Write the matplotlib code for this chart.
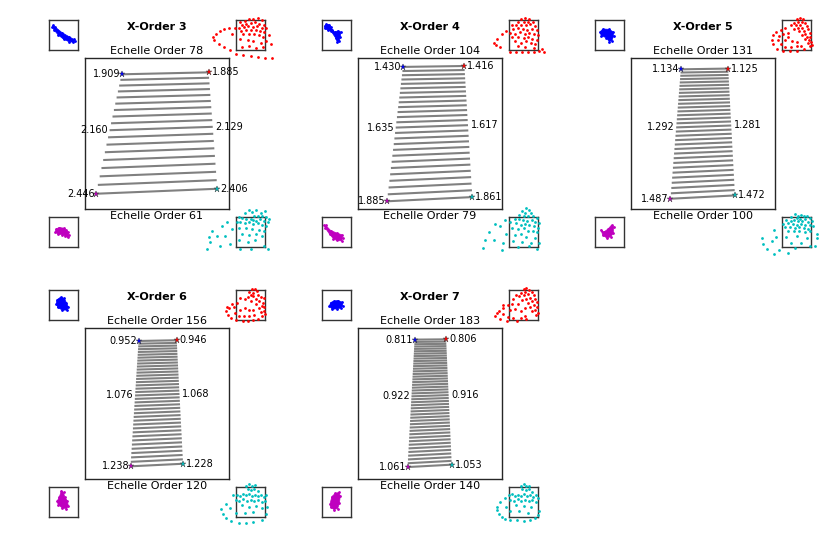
import numpy as np
import matplotlib.pyplot as plt

# cross-disperser orders and the echelle orders they cover
xorders = [3, 4, 5, 6, 7]
order_top = [78, 104, 131, 156, 183]
order_bot = [61, 79, 100, 120, 140]

# wavelengths (micron) at the corners and at the middle order
wl_tl = [1.909, 1.430, 1.134, 0.952, 0.811]
wl_tr = [1.885, 1.416, 1.125, 0.946, 0.806]
wl_ml = [2.160, 1.635, 1.292, 1.076, 0.922]
wl_mr = [2.129, 1.617, 1.281, 1.068, 0.916]
wl_bl = [2.446, 1.885, 1.487, 1.238, 1.061]
wl_br = [2.406, 1.861, 1.472, 1.228, 1.053]

# corner positions on the detector (normalised units)
tl_x = [0.254, 0.312, 0.346, 0.372, 0.393]
tl_y = [0.892, 0.941, 0.925, 0.914, 0.923]
tr_x = [0.859, 0.739, 0.675, 0.637, 0.612]
tr_y = [0.905, 0.947, 0.930, 0.919, 0.925]
bl_x = [0.076, 0.201, 0.274, 0.316, 0.344]
bl_y = [0.101, 0.051, 0.068, 0.084, 0.079]
br_x = [0.919, 0.794, 0.722, 0.681, 0.651]
br_y = [0.134, 0.079, 0.090, 0.101, 0.095]

# spot diagrams, in units of the pixel box
blue_3 = [(0.14, 0.82), (0.22, 0.76), (0.45, 0.58), (0.68, 0.45), (0.85, 0.36), (0.88, 0.30),
          (0.82, 0.26), (0.68, 0.28), (0.50, 0.36), (0.32, 0.50), (0.18, 0.66), (0.12, 0.76)]
blue_4 = [(0.44, 0.60), (0.55, 0.64), (0.65, 0.60), (0.63, 0.45), (0.60, 0.30), (0.52, 0.28),
          (0.47, 0.40), (0.32, 0.62), (0.20, 0.66), (0.10, 0.72), (0.09, 0.80), (0.15, 0.86),
          (0.24, 0.85), (0.30, 0.78), (0.36, 0.68)]
blue_5 = [(0.17, 0.60), (0.27, 0.70), (0.48, 0.69), (0.62, 0.61), (0.64, 0.46), (0.58, 0.31),
          (0.49, 0.28), (0.39, 0.41), (0.22, 0.47)]
blue_6 = [(0.28, 0.68), (0.40, 0.76), (0.53, 0.72), (0.60, 0.58), (0.67, 0.43), (0.62, 0.33),
          (0.46, 0.33), (0.30, 0.42), (0.25, 0.55)]
blue_7 = [(0.25, 0.46), (0.30, 0.58), (0.40, 0.63), (0.55, 0.65), (0.68, 0.60), (0.72, 0.48),
          (0.65, 0.40), (0.50, 0.37), (0.36, 0.36)]

mag_3 = [(0.24, 0.60), (0.35, 0.65), (0.50, 0.63), (0.60, 0.56), (0.67, 0.49), (0.69, 0.39),
         (0.64, 0.32), (0.55, 0.37), (0.45, 0.41), (0.31, 0.43), (0.22, 0.49)]
mag_4 = [(0.08, 0.72), (0.13, 0.72), (0.30, 0.55), (0.50, 0.47), (0.68, 0.41), (0.71, 0.30),
         (0.68, 0.20), (0.50, 0.22), (0.39, 0.28), (0.26, 0.43), (0.11, 0.64)]
mag_5 = [(0.20, 0.58), (0.31, 0.50), (0.45, 0.60), (0.57, 0.73), (0.64, 0.68), (0.63, 0.46),
         (0.54, 0.34), (0.41, 0.30), (0.27, 0.39)]
mag_6 = [(0.43, 0.88), (0.50, 0.82), (0.54, 0.68), (0.63, 0.54), (0.67, 0.36), (0.60, 0.28),
         (0.46, 0.30), (0.32, 0.41), (0.28, 0.52), (0.36, 0.68)]
mag_7 = [(0.28, 0.45), (0.34, 0.68), (0.46, 0.79), (0.59, 0.82), (0.63, 0.69), (0.60, 0.46),
         (0.54, 0.28), (0.41, 0.25), (0.30, 0.32)]

red_3 = [(0.15, 0.95), (0.30, 0.98), (0.45, 1.02), (0.60, 1.05), (0.75, 1.08), (0.90, 1.00),
         (0.20, 0.85), (0.35, 0.88), (0.50, 0.90), (0.65, 0.92), (0.80, 0.88), (0.95, 0.85),
         (0.10, 0.75), (0.28, 0.78), (0.42, 0.80), (0.58, 0.78), (0.72, 0.80), (0.88, 0.75),
         (1.05, 0.72), (0.18, 0.65), (0.35, 0.66), (0.50, 0.68), (0.68, 0.66), (0.82, 0.62),
         (0.98, 0.60), (0.25, 0.52), (0.45, 0.55), (0.62, 0.52), (0.78, 0.50), (0.92, 0.45),
         (1.15, 0.50), (0.15, 0.38), (0.40, 0.35), (0.60, 0.30), (0.85, 0.25), (1.05, 0.30),
         (0.20, 0.10), (0.45, 0.12), (0.70, 0.08), (0.92, 0.10), (1.20, 0.20), (-0.25, 0.75),
         (-0.40, 0.70), (-0.55, 0.62), (-0.70, 0.55), (-0.80, 0.45), (-0.75, 0.32), (-0.60, 0.20),
         (-0.40, 0.10), (-0.20, 0.00), (-0.05, 0.75), (-0.15, 0.55), (0.00, -0.12), (0.25, -0.15),
         (0.50, -0.20), (0.75, -0.22), (1.00, -0.25), (1.25, -0.28)]
red_4 = [(0.40, 1.05), (0.55, 1.08), (0.70, 1.02), (0.30, 0.95), (0.50, 0.95), (0.65, 0.92),
         (0.82, 0.95), (0.10, 0.85), (0.25, 0.82), (0.40, 0.85), (0.58, 0.82), (0.72, 0.86),
         (0.88, 0.80), (0.15, 0.70), (0.30, 0.72), (0.48, 0.70), (0.62, 0.68), (0.78, 0.70),
         (0.95, 0.68), (0.05, 0.58), (0.20, 0.55), (0.38, 0.60), (0.55, 0.55), (0.70, 0.58),
         (0.85, 0.55), (1.00, 0.50), (0.12, 0.42), (0.30, 0.45), (0.50, 0.40), (0.65, 0.42),
         (0.80, 0.38), (0.95, 0.35), (0.20, 0.30), (0.42, 0.25), (0.60, 0.30), (0.75, 0.22),
         (0.90, 0.20), (0.30, 0.12), (0.55, 0.10), (0.85, 0.08), (-0.25, 0.54), (-0.42, 0.38),
         (-0.51, 0.25), (-0.44, 0.16), (-0.31, 0.11), (-0.10, 0.62), (0.05, -0.05), (0.25, -0.06),
         (0.45, -0.05), (0.65, -0.06), (0.85, -0.05), (1.05, -0.04), (1.15, 0.05), (1.20, -0.06)]
red_5 = [(0.50, 1.02), (0.62, 1.06), (0.72, 1.04), (0.68, 0.95), (0.55, 0.92), (0.40, 0.90),
         (0.30, 0.84), (0.48, 0.82), (0.62, 0.85), (0.78, 0.90), (0.85, 0.80), (0.70, 0.75),
         (0.55, 0.72), (0.42, 0.70), (0.60, 0.62), (0.75, 0.65), (0.90, 0.70), (0.95, 0.58),
         (0.80, 0.55), (0.68, 0.50), (0.85, 0.45), (0.98, 0.45), (0.92, 0.35), (0.78, 0.38),
         (1.00, 0.28), (0.88, 0.25), (1.02, 0.18), (0.95, 0.12), (-0.34, 0.35), (-0.30, 0.50),
         (-0.20, 0.60), (-0.05, 0.68), (0.10, 0.72), (-0.30, 0.20), (-0.17, 0.02), (0.05, -0.02),
         (0.29, -0.03), (0.52, -0.02), (0.75, 0.02), (-0.15, 0.35), (-0.10, 0.48), (0.05, 0.55),
         (0.20, 0.58), (-0.05, 0.20), (0.10, 0.10), (0.30, 0.10), (0.50, 0.12), (0.65, 0.15),
         (0.10, 0.35), (0.20, 0.42), (0.35, 0.30), (0.50, 0.28)]
red_6 = [(0.45, 0.93), (0.55, 1.02), (0.65, 1.05), (0.72, 0.98), (0.60, 0.90), (0.50, 0.85),
         (0.15, 0.75), (0.30, 0.70), (0.42, 0.78), (0.58, 0.80), (0.75, 0.85), (0.85, 0.78),
         (0.95, 0.72), (0.68, 0.70), (0.52, 0.65), (0.80, 0.62), (0.92, 0.58), (0.70, 0.55),
         (0.88, 0.48), (0.98, 0.42), (0.78, 0.40), (0.95, 0.30), (0.85, 0.28), (1.00, 0.20),
         (0.90, 0.15), (-0.34, 0.29), (-0.28, 0.18), (-0.17, 0.07), (0.00, 0.00), (0.23, -0.03),
         (0.40, -0.03), (0.58, 0.00), (0.75, 0.05), (-0.23, 0.40), (-0.06, 0.45), (-0.30, 0.45),
         (-0.15, 0.55), (0.05, 0.58), (-0.05, 0.25), (0.10, 0.15), (0.28, 0.12), (0.45, 0.15),
         (0.62, 0.18), (0.15, 0.35), (0.30, 0.40), (0.45, 0.32), (0.60, 0.35)]
red_7 = [(0.50, 1.05), (0.60, 1.08), (0.68, 1.00), (0.55, 0.95), (0.42, 0.90), (0.25, 0.85),
         (0.35, 0.80), (0.50, 0.82), (0.65, 0.88), (0.78, 0.92), (0.85, 0.82), (0.72, 0.75),
         (0.58, 0.70), (0.45, 0.68), (0.15, 0.70), (0.90, 0.70), (0.78, 0.62), (0.65, 0.58),
         (0.95, 0.60), (0.85, 0.50), (0.72, 0.45), (0.98, 0.45), (0.90, 0.35), (0.80, 0.30),
         (1.00, 0.25), (0.92, 0.18), (-0.48, 0.13), (-0.36, 0.29), (-0.19, 0.39), (-0.31, 0.02),
         (-0.08, -0.03), (0.26, -0.03), (0.60, 0.02), (-0.40, 0.22), (-0.05, 0.50), (0.10, 0.55),
         (-0.20, 0.20), (-0.05, 0.10), (0.15, 0.08), (0.40, 0.08), (0.55, 0.15), (0.05, 0.32),
         (0.22, 0.38), (0.40, 0.30), (0.55, 0.40), (0.30, 0.55), (-0.20, 0.50)]

cyan_3 = [(0.30, 1.15), (0.45, 1.25), (0.55, 1.18), (0.70, 1.22), (0.85, 1.12), (1.00, 1.20),
          (0.62, 1.05), (0.75, 1.02), (0.90, 1.05), (1.05, 1.00), (1.15, 0.95), (0.10, 1.00),
          (0.22, 0.98), (0.35, 0.95), (0.50, 0.92), (0.60, 0.90), (0.70, 0.88), (0.82, 0.92),
          (0.95, 0.88), (1.10, 0.85), (0.05, 0.85), (0.15, 0.82), (0.30, 0.80), (0.45, 0.82),
          (0.58, 0.78), (0.75, 0.80), (0.90, 0.75), (1.05, 0.70), (0.10, 0.62), (0.35, 0.65),
          (0.55, 0.60), (0.80, 0.58), (0.95, 0.55), (0.20, 0.42), (0.45, 0.40), (0.70, 0.45),
          (0.88, 0.38), (0.12, 0.22), (0.40, 0.18), (0.65, 0.25), (0.95, 0.05), (0.15, -0.05),
          (0.50, -0.08), (1.10, -0.05), (-0.30, 0.82), (-0.48, 0.71), (-0.65, 0.38), (-0.93, 0.33),
          (-0.88, 0.16), (-0.99, -0.05), (-0.37, 0.38), (-0.20, 0.10), (-0.82, 0.54), (-0.15, 0.60),
          (-0.55, 0.05)]
cyan_4 = [(0.60, 1.30), (0.70, 1.25), (0.45, 1.20), (0.55, 1.15), (0.75, 1.12), (0.35, 1.08),
          (0.50, 1.05), (0.65, 1.02), (0.82, 1.05), (0.95, 0.98), (0.20, 0.95), (0.35, 0.92),
          (0.48, 0.90), (0.62, 0.88), (0.78, 0.90), (0.90, 0.85), (1.05, 0.80), (0.05, 0.82),
          (0.25, 0.80), (0.40, 0.75), (0.55, 0.78), (0.70, 0.72), (0.85, 0.70), (1.00, 0.65),
          (0.10, 0.62), (0.30, 0.60), (0.50, 0.62), (0.65, 0.55), (0.82, 0.52), (0.98, 0.50),
          (0.20, 0.40), (0.40, 0.42), (0.60, 0.35), (0.90, 0.30), (0.15, 0.20), (0.45, 0.18),
          (0.75, 0.15), (1.05, 0.12), (0.30, 0.00), (0.70, 0.02), (0.95, -0.05), (-0.15, 0.90),
          (-0.30, 0.70), (-0.48, 0.78), (-0.70, 0.51), (-0.82, 0.24), (-0.88, -0.03), (-0.53, 0.24),
          (-0.19, 0.13), (-0.25, -0.09), (-0.10, 0.45)]
cyan_5 = [(0.45, 1.10), (0.55, 1.05), (0.65, 1.08), (0.75, 1.02), (0.85, 1.05), (0.30, 1.00),
          (0.50, 0.98), (0.62, 0.95), (0.80, 0.95), (0.95, 0.98), (0.15, 0.90), (0.30, 0.88),
          (0.42, 0.90), (0.55, 0.86), (0.70, 0.88), (0.88, 0.85), (1.05, 0.88), (0.05, 0.78),
          (0.20, 0.80), (0.38, 0.78), (0.50, 0.75), (0.65, 0.78), (0.80, 0.74), (0.95, 0.75),
          (1.08, 0.70), (0.10, 0.66), (0.28, 0.68), (0.45, 0.65), (0.60, 0.66), (0.75, 0.62),
          (0.90, 0.60), (0.20, 0.55), (0.40, 0.52), (0.58, 0.55), (0.78, 0.50), (0.98, 0.52),
          (0.15, 0.35), (0.50, 0.38), (0.85, 0.30), (0.30, 0.15), (0.65, 0.12), (0.95, 0.05),
          (0.45, -0.02), (-0.28, 0.57), (-0.19, 0.35), (-0.68, 0.29), (-0.65, 0.10), (-0.53, -0.05),
          (-0.28, -0.23), (-0.35, 0.20), (-0.10, -0.10), (1.19, 0.29), (1.14, 0.02), (1.20, 0.45),
          (0.20, -0.20)]
cyan_6 = [(0.35, 1.05), (0.45, 1.10), (0.55, 1.02), (0.65, 1.08), (0.40, 0.92), (0.52, 0.90),
          (0.62, 0.95), (0.75, 0.88), (-0.10, 0.72), (0.05, 0.75), (0.15, 0.70), (0.25, 0.76),
          (0.35, 0.72), (0.45, 0.78), (0.55, 0.70), (0.65, 0.75), (0.75, 0.70), (0.85, 0.74),
          (0.95, 0.68), (1.05, 0.72), (0.00, 0.58), (0.12, 0.55), (0.25, 0.60), (0.38, 0.55),
          (0.50, 0.58), (0.62, 0.52), (0.75, 0.56), (0.88, 0.50), (1.00, 0.55), (0.20, 0.40),
          (0.45, 0.35), (0.70, 0.38), (0.90, 0.30), (0.30, 0.15), (0.60, 0.18), (-0.51, 0.28),
          (-0.45, 0.11), (-0.34, -0.02), (-0.17, -0.13), (0.11, -0.20), (0.35, -0.20), (0.57, -0.17),
          (0.91, -0.11), (1.02, 0.11), (1.08, 0.33), (-0.35, 0.45), (-0.20, 0.30), (0.00, 0.15)]
cyan_7 = [(0.40, 1.05), (0.50, 1.10), (0.60, 1.02), (0.70, 1.05), (0.45, 0.92), (0.58, 0.90),
          (0.68, 0.95), (0.80, 0.85), (0.00, 0.72), (0.12, 0.76), (0.22, 0.70), (0.32, 0.75),
          (0.42, 0.70), (0.52, 0.76), (0.62, 0.70), (0.72, 0.74), (0.82, 0.68), (0.92, 0.72),
          (1.00, 0.65), (0.05, 0.58), (0.18, 0.55), (0.30, 0.60), (0.42, 0.55), (0.55, 0.58),
          (0.68, 0.52), (0.80, 0.56), (0.92, 0.50), (0.25, 0.40), (0.50, 0.38), (0.75, 0.35),
          (0.35, 0.20), (0.65, 0.15), (-0.42, 0.33), (-0.36, 0.11), (-0.14, -0.06), (0.26, -0.11),
          (0.72, -0.09), (1.00, 0.06), (-0.31, 0.50), (-0.15, 0.62), (-0.40, 0.22), (-0.25, 0.00),
          (0.05, -0.10), (0.50, -0.12), (0.88, -0.02), (1.05, 0.20), (-0.10, 0.35), (0.05, 0.20)]

blue_spots = [blue_3, blue_4, blue_5, blue_6, blue_7]
mag_spots = [mag_3, mag_4, mag_5, mag_6, mag_7]
red_spots = [red_3, red_4, red_5, red_6, red_7]
cyan_spots = [cyan_3, cyan_4, cyan_5, cyan_6, cyan_7]

W, H = 830, 552


def px_rect(left, top, w, h):
    return [left / W, 1 - (top + h) / H, w / W, h / H]


def spot_box(fig, left, top, pts, color, blob):
    ax = fig.add_axes(px_rect(left, top, 29, 30))
    u, v = np.array(pts).T
    if blob:
        ax.fill(u, v, color=color, lw=0.5)
        ax.plot(u, v, '.', color=color, ms=2)
    else:
        ax.scatter(u, v, s=4, c=color, linewidths=0, clip_on=False, zorder=3)
    ax.set_xlim(0, 1)
    ax.set_ylim(0, 1)
    ax.set_xticks([])
    ax.set_yticks([])
    for s in ax.spines.values():
        s.set_color('0.2')
        s.set_linewidth(1.0)
    return ax


fig = plt.figure(figsize=(W / 100, H / 100), dpi=100)

for i in range(len(xorders)):
    left = [85, 358, 631][i % 3]
    top = [58, 328][i // 3]
    ax = fig.add_axes(px_rect(left, top, 144, 151))

    # order positions follow the grating equation (lambda ~ 1/m)
    m = np.arange(order_top[i], order_bot[i] - 1, -1)
    t = (1 / m - 1 / order_top[i]) / (1 / order_bot[i] - 1 / order_top[i])
    xl = tl_x[i] + t * (bl_x[i] - tl_x[i])
    yl = tl_y[i] + t * (bl_y[i] - tl_y[i])
    xr = tr_x[i] + t * (br_x[i] - tr_x[i])
    yr = tr_y[i] + t * (br_y[i] - tr_y[i])
    ax.plot(np.vstack([xl, xr]), np.vstack([yl, yr]), color='0.5', lw=1.5,
            solid_capstyle='butt')

    mid = list(m).index((order_top[i] + order_bot[i]) // 2)

    ax.plot(tl_x[i], tl_y[i], '*', color='b', ms=5, mec='0.2', mew=0.3)
    ax.plot(tr_x[i], tr_y[i], '*', color='r', ms=5, mec='0.2', mew=0.3)
    ax.plot(bl_x[i], bl_y[i], '*', color='m', ms=5, mec='0.2', mew=0.3)
    ax.plot(br_x[i], br_y[i], '*', color='c', ms=5, mec='0.2', mew=0.3)

    labels = [(wl_tl[i], tl_x[i], tl_y[i], 'right'),
              (wl_tr[i], tr_x[i], tr_y[i], 'left'),
              (wl_ml[i], xl[mid], yl[mid], 'right'),
              (wl_mr[i], xr[mid], yr[mid], 'left'),
              (wl_bl[i], bl_x[i], bl_y[i], 'right'),
              (wl_br[i], br_x[i], br_y[i], 'left')]
    for wl, x, y, ha in labels:
        dx = -1 if ha == 'right' else 2
        ax.annotate(f'{wl:.3f}', (x, y), xytext=(dx, 0), textcoords='offset points',
                    ha=ha, va='center', fontsize=7)

    ax.set_xlim(0, 1)
    ax.set_ylim(0, 1)
    ax.set_xticks([])
    ax.set_yticks([])
    for s in ax.spines.values():
        s.set_color('0.15')
        s.set_linewidth(1.0)

    ax.text(0.5, 1.01, f'Echelle Order {order_top[i]}', transform=ax.transAxes,
            ha='center', va='bottom', fontsize=8)
    ax.text(0.5, -0.012, f'Echelle Order {order_bot[i]}', transform=ax.transAxes,
            ha='center', va='top', fontsize=8)
    fig.text((left + 72) / W, 1 - (top - 31) / H, f'X-Order {xorders[i]}',
             ha='center', va='center', fontsize=8, fontweight='bold')

    spot_box(fig, left - 36, top - 38, blue_spots[i], 'b', True)
    spot_box(fig, left + 151, top - 38, red_spots[i], 'r', False)
    spot_box(fig, left - 36, top + 159, mag_spots[i], 'm', True)
    spot_box(fig, left + 151, top + 159, cyan_spots[i], 'c', False)

fig.savefig('out.png', dpi=100)
